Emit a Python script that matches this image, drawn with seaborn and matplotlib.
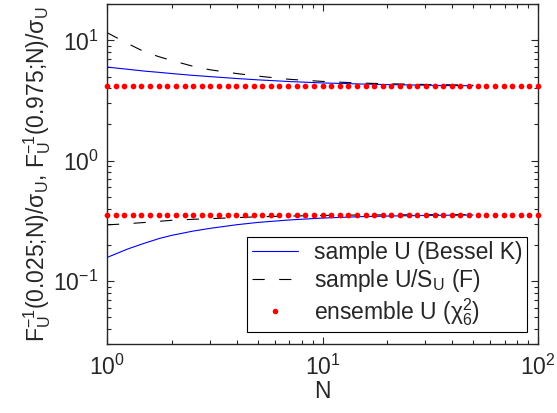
import numpy as np
import pandas as pd
import matplotlib
matplotlib.use("Agg")
import matplotlib.pyplot as plt
import seaborn as sns
from matplotlib.lines import Line2D

sns.set_style("ticks")
plt.rcParams['font.family'] = ['Liberation Sans', 'DejaVu Sans']
plt.rcParams['mathtext.fontset'] = 'custom'
plt.rcParams['mathtext.rm'] = 'Liberation Sans'
plt.rcParams['mathtext.it'] = 'Liberation Sans'
plt.rcParams['mathtext.default'] = 'regular'

# Data
N = [1, 1.25, 1.5, 1.75, 2, 2.5, 3, 4, 5, 7, 10, 15, 20, 30, 40, 50]
bessel_upper = [6.0, 5.75, 5.55, 5.42, 5.3, 5.12, 5.0, 4.82, 4.7, 4.55, 4.43, 4.34, 4.29, 4.24, 4.21, 4.20]
bessel_lower = [0.157, 0.185, 0.207, 0.226, 0.240, 0.260, 0.274, 0.294, 0.307, 0.322, 0.334, 0.343, 0.347, 0.351, 0.353, 0.354]
f_upper = [11.6, 9.4, 8.0, 7.3, 6.8, 6.1, 5.7, 5.3, 5.05, 4.75, 4.56, 4.42, 4.36, 4.30, 4.27, 4.25]
f_lower = [0.293, 0.300, 0.307, 0.314, 0.320, 0.326, 0.330, 0.337, 0.342, 0.347, 0.351, 0.354, 0.355, 0.356, 0.356, 0.357]
ens_upper = 4.17
ens_lower = 0.357
ens_N = np.logspace(0, 2, 51)

labels = ['sample U (Bessel K)', 'sample U/S$_U$ (F)', r'ensemble U ($\chi^2_6$)']

fig = plt.figure(figsize=(5.57, 4.13), dpi=100)
ax = fig.add_axes([0.192, 0.167, 0.774, 0.823])

df = pd.DataFrame({'N': N, 'bu': bessel_upper, 'bl': bessel_lower,
                   'fu': f_upper, 'fl': f_lower})
ens = pd.DataFrame({'N': ens_N, 'u': ens_upper, 'l': ens_lower})

dash = (0, (11, 13))
for col in ['bu', 'bl']:
    sns.lineplot(data=df, x='N', y=col, ax=ax, color='#0000ff', lw=0.8)
for col in ['fu', 'fl']:
    sns.lineplot(data=df, x='N', y=col, ax=ax, color='black', lw=0.8, linestyle=dash)
for col in ['u', 'l']:
    sns.scatterplot(data=ens, x='N', y=col, ax=ax, color='#ff0000', s=17,
                    linewidth=0, zorder=5, clip_on=False)

ax.set_xscale('log')
ax.set_yscale('log')
ax.set_xlim(1, 100)
ax.set_ylim(0.03, 20)

fs = 16.5
ax.set_xlabel('N', fontsize=fs, labelpad=0)
ax.set_ylabel(r'$F_U^{-1}$(0.025;N)/$\sigma_U$, $F_U^{-1}$(0.975;N)/$\sigma_U$',
              fontsize=fs, labelpad=0)

ax.tick_params(which='both', direction='in', top=True, right=True, labelsize=fs)
ax.tick_params(which='major', length=5, width=0.8)
ax.tick_params(which='minor', length=3, width=0.8)
ax.tick_params(axis='x', pad=8)
ax.tick_params(axis='y', pad=6)
for s in ax.spines.values():
    s.set_linewidth(1.0)
    s.set_visible(True)

handles = [Line2D([], [], color='#0000ff', lw=0.8),
           Line2D([], [], color='black', lw=0.8, linestyle=dash),
           Line2D([], [], color='#ff0000', marker='o', markersize=4,
                  linestyle='None', markeredgewidth=0)]
leg = ax.legend(handles, labels, loc='lower right', bbox_to_anchor=(0.974, 0.035),
                fontsize=16.5, frameon=True, fancybox=False, framealpha=1,
                edgecolor='black', handlelength=2.0, labelspacing=0.1,
                borderpad=0.2, handletextpad=0.7, borderaxespad=0)
leg.get_frame().set_linewidth(0.8)

fig.savefig('out.png', dpi=100)
